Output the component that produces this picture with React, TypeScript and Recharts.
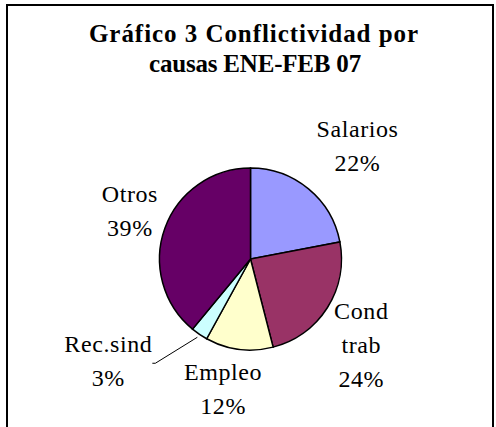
import React from 'react';
import { PieChart, Pie, Cell } from 'recharts';

// Gráfico 3 - conflictividad por causas, ENE-FEB 07 (share in %)
const causes = ['Salarios', 'Cond trab', 'Empleo', 'Rec.sind', 'Otros'];
const shares = [22, 24, 12, 3, 39];
const labelText = [['Salarios'], ['Cond', 'trab'], ['Empleo'], ['Rec.sind'], ['Otros']];
const colors = ['#9999FF', '#993366', '#FFFFCC', '#CCFFFF', '#660066'];

const data = causes.map((name, i) => ({ name, value: shares[i] }));

// label block placement relative to the slice's outer edge point (center x, first baseline)
const labelShift = [
  [49, -52],
  [34, 11],
  [-16, 31],
  [-91, 18],
  [-35, -26],
];
const LINE_H = 34;
const FONT = '"Liberation Serif", "Times New Roman", serif';
const RADIAN = Math.PI / 180;

function renderLabel(props: any) {
  const { cx, cy, midAngle, outerRadius, index } = props;
  const ax = cx + outerRadius * Math.cos(-midAngle * RADIAN);
  const ay = cy + outerRadius * Math.sin(-midAngle * RADIAN);
  const [dx, dy] = labelShift[index];
  const x = ax + dx;
  const y = ay + dy;
  const lines = [...labelText[index], `${shares[index]}%`];
  const leader = index === 3;
  return (
    <g key={`lbl-${index}`}>
      {leader && (
        <polyline
          points={`${ax - 2},${ay + 3} ${ax - 44},${ay + 29} ${ax - 47},${ay + 29}`}
          fill="none"
          stroke="#000"
          strokeWidth={1}
        />
      )}
      <text
        x={x}
        y={y}
        textAnchor="middle"
        fill="#000"
        style={{ fontFamily: FONT, fontSize: 24, letterSpacing: 0.6 }}
      >
        {lines.map((t, j) => (
          <tspan key={j} x={x} y={y + j * LINE_H} style={{ fontFamily: FONT }}>
            {t}
          </tspan>
        ))}
      </text>
    </g>
  );
}

export default function App() {
  return (
    <div style={{ position: 'fixed', left: 0, top: 0, width: 496, height: 427, overflow: 'hidden', background: '#fff' }}>
      <div
        style={{
          position: 'absolute',
          left: 6,
          top: 4,
          width: 488,
          height: 460,
          border: '2px solid #000',
          boxSizing: 'border-box',
        }}
      />
      <div style={{ position: 'absolute', left: 0, top: 0 }}>
        <PieChart width={496} height={427} margin={{ top: 0, right: 0, bottom: 0, left: 0 }}>
          <text x={254} y={42} textAnchor="middle" fill="#000" style={{ fontFamily: FONT, fontWeight: 'bold', fontSize: 25, letterSpacing: 0.95 }}>
            Gráfico 3 Conflictividad por
          </text>
          <text x={255} y={72} textAnchor="middle" fill="#000" style={{ fontFamily: FONT, fontWeight: 'bold', fontSize: 25, letterSpacing: -0.2 }}>
            causas ENE-FEB 07
          </text>
          <Pie
            data={data}
            dataKey="value"
            nameKey="name"
            cx={250.5}
            cy={259}
            outerRadius={91}
            startAngle={90}
            endAngle={-270}
            stroke="#000"
            strokeWidth={1.5}
            label={renderLabel}
            labelLine={false}
            isAnimationActive={false}
          >
            {data.map((d, i) => (
              <Cell key={d.name} fill={colors[i]} />
            ))}
          </Pie>
        </PieChart>
      </div>
    </div>
  );
}
